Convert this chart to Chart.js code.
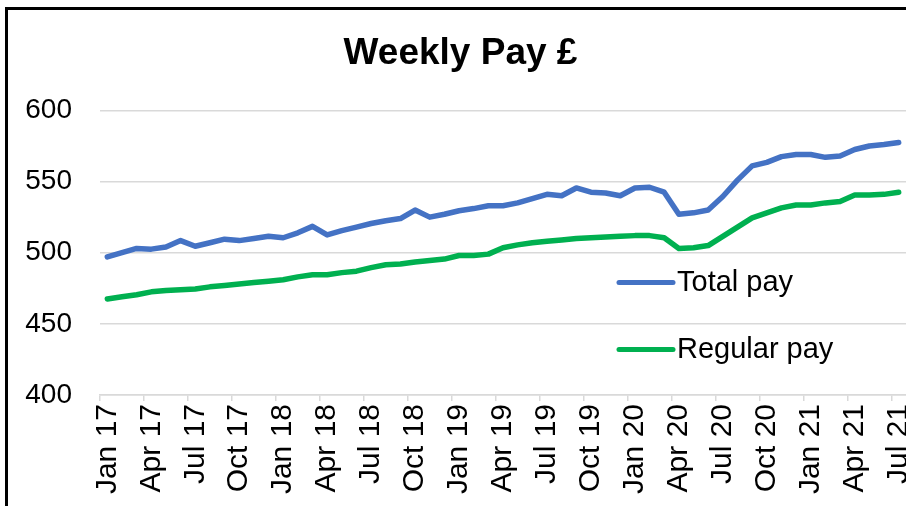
<!DOCTYPE html>
<html>
<head>
<meta charset="utf-8">
<script src="https://cdn.jsdelivr.net/npm/chart.js@4.4.1/dist/chart.umd.min.js"></script>
<style>
  html, body { margin: 0; padding: 0; background: #fff; overflow: hidden; }
  #frame {
    position: absolute; left: 5px; top: 7px; width: 1000px; height: 600px;
    border-left: 3px solid #000; border-top: 3px solid #000;
  }
  #wrap { position: absolute; left: 0; top: 0; width: 920px; height: 506px; }
</style>
</head>
<body>
<div id="frame"></div>
<div id="wrap"><canvas id="chart"></canvas></div>
<script>
// Meses (Jan 17 - Jul 21)
const months = [
  'Jan 17','Feb 17','Mar 17','Apr 17','May 17','Jun 17','Jul 17','Aug 17','Sep 17','Oct 17','Nov 17','Dec 17',
  'Jan 18','Feb 18','Mar 18','Apr 18','May 18','Jun 18','Jul 18','Aug 18','Sep 18','Oct 18','Nov 18','Dec 18',
  'Jan 19','Feb 19','Mar 19','Apr 19','May 19','Jun 19','Jul 19','Aug 19','Sep 19','Oct 19','Nov 19','Dec 19',
  'Jan 20','Feb 20','Mar 20','Apr 20','May 20','Jun 20','Jul 20','Aug 20','Sep 20','Oct 20','Nov 20','Dec 20',
  'Jan 21','Feb 21','Mar 21','Apr 21','May 21','Jun 21','Jul 21'
];

// Series
const totalPay = [
  497, 500, 503, 502.5, 504, 508.5, 504.5, 507, 509.5, 508.5, 510, 511.5,
  510.5, 514, 518.5, 512.5, 515.5, 518, 520.5, 522.5, 524, 530, 525, 527,
  529.5, 531, 533, 533, 535, 538, 541, 540, 545.5, 542.5, 542, 540,
  545.5, 546, 542.5, 527, 528, 530, 539.5, 551, 561, 563.5, 567.5, 569,
  569, 567, 568, 572.5, 575, 576, 577.5
];
const regularPay = [
  467.5, 469, 470.5, 472.5, 473.5, 474, 474.5, 476, 477, 478, 479, 480,
  481, 483, 484.5, 484.5, 486, 487, 489.5, 491.5, 492, 493.5, 494.5, 495.5,
  498, 498, 499, 503.5, 505.5, 507, 508, 509, 510, 510.5, 511, 511.5,
  512, 512, 510.5, 503, 503.5, 505, 511.5, 518, 524.5, 528, 531.5, 533.5,
  533.5, 535, 536, 540.5, 540.5, 541, 542.5
];

const seriesNames = ['Total pay', 'Regular pay'];
const seriesColors = ['#4472C4', '#00B050'];
const yTicks = [400, 450, 500, 550, 600];

const font = "'Liberation Sans', Arial, Helvetica, sans-serif";

// Leyenda dentro del área del gráfico
const insideLegend = {
  id: 'insideLegend',
  afterDraw(chart) {
    const ctx = chart.ctx;
    const area = chart.chartArea;
    const x0 = area.left + 519;
    const rows = [area.top + 172, area.top + 239];
    ctx.save();
    ctx.font = '29px ' + font;
    ctx.textBaseline = 'middle';
    ctx.fillStyle = '#000';
    ctx.lineCap = 'round';
    ctx.lineWidth = 5;
    seriesNames.forEach((name, i) => {
      ctx.strokeStyle = seriesColors[i];
      ctx.beginPath();
      ctx.moveTo(x0, rows[i]);
      ctx.lineTo(x0 + 54, rows[i]);
      ctx.stroke();
      ctx.fillText(name, x0 + 58, rows[i] + 1);
    });
    ctx.restore();
  }
};

const config = {
  type: 'line',
  data: {
    labels: months,
    datasets: [
      { label: seriesNames[0], data: totalPay, borderColor: seriesColors[0], backgroundColor: seriesColors[0],
        borderWidth: 5.5, pointRadius: 0, tension: 0, borderCapStyle: 'round', borderJoinStyle: 'round' },
      { label: seriesNames[1], data: regularPay, borderColor: seriesColors[1], backgroundColor: seriesColors[1],
        borderWidth: 5.5, pointRadius: 0, tension: 0, borderCapStyle: 'round', borderJoinStyle: 'round' }
    ]
  },
  options: {
    responsive: true,
    maintainAspectRatio: false,
    animation: false,
    layout: { padding: { left: 15, right: 14, top: 0, bottom: 0 } },
    plugins: {
      legend: { display: false },
      tooltip: { enabled: false },
      title: {
        display: true,
        text: 'Weekly Pay £',
        color: '#000',
        font: { family: font, size: 37, weight: 'bold' },
        padding: { top: 32, bottom: 34 }
      }
    },
    scales: {
      x: {
        offset: true,
        grid: {
          offset: true,
          drawOnChartArea: false,
          drawTicks: true,
          tickLength: 6,
          lineWidth: 1.5,
          color: (c) => (c.index % 3 === 0 ? '#d9d9d9' : 'rgba(0,0,0,0)')
        },
        border: { display: true, color: '#d9d9d9', width: 1.5 },
        ticks: {
          autoSkip: false,
          maxRotation: 90,
          minRotation: 90,
          padding: 3,
          color: '#000',
          font: { family: font, size: 30 },
          callback: (v, i) => (i % 3 === 0 ? months[i] : '')
        },
        afterFit: (scale) => {
          scale.height = 111;
          scale.paddingLeft = 0;
          scale.paddingRight = 0;
        }
      },
      y: {
        min: yTicks[0],
        max: yTicks[yTicks.length - 1],
        afterBuildTicks: (scale) => { scale.ticks = yTicks.map(v => ({ value: v })); },
        grid: { color: '#d9d9d9', lineWidth: 1.5, drawTicks: false },
        border: { display: false },
        ticks: {
          padding: 28,
          color: '#000',
          font: { family: font, size: 28 }
        },
        afterFit: (scale) => { scale.width = 85; }
      }
    }
  },
  plugins: [insideLegend]
};

new Chart(document.getElementById('chart'), config);
</script>
</body>
</html>
